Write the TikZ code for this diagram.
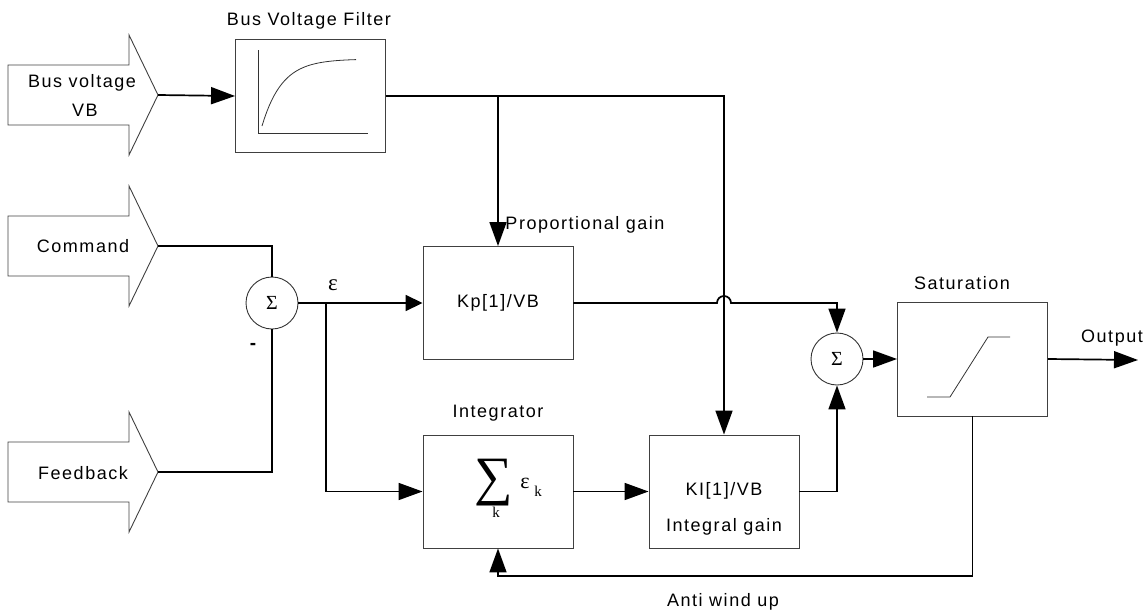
\documentclass[tikz,border=0pt]{standalone}
\usepackage{fontspec}
\setmainfont{Liberation Sans}[LetterSpace=8.5]
\newfontfamily\serifgr{Liberation Serif}
\usetikzlibrary{arrows.meta}
\begin{document}
\begin{tikzpicture}[x=1pt,y=-1pt,
 conn/.style={line width=1.7pt, black},
 arr/.style={conn, -{Triangle[length=24pt,width=17pt]}},
 sarr/.style={conn, -{Triangle[length=17pt,width=16pt]}},
 blk/.style={draw=black!75, line width=0.9pt, inner sep=0, minimum width=150pt, minimum height=113pt, align=center, font=\fontsize{18}{21}\selectfont},
 sumc/.style={circle, draw=black!80, line width=0.9pt, minimum size=52pt, inner sep=0, font=\serifgr\fontsize{20}{20}\selectfont},
 lbl/.style={inner sep=0, font=\fontsize{18}{21}\selectfont},
 grk/.style={inner sep=0, font=\serifgr\fontsize{23}{23}\selectfont},
 inarrow/.style={draw=black!75, line width=0.9pt},
 curve/.style={draw=black!80, line width=0.8pt}
]
\useasboundingbox (0,0) rectangle (1148,613);

% input arrows
\draw[inarrow] (8,65) -- (129,65) -- (129,35) -- (158,95) -- (129,155) -- (129,125) -- (8,125) -- cycle;
\coordinate (busT) at (158,95);
\node[lbl] (busL1) at (82,83) {Bus voltage};
\node[lbl] (busL2) at (85,110) {VB};

\draw[inarrow] (8,216) -- (129,216) -- (129,186) -- (158,246) -- (129,306) -- (129,276) -- (8,276) -- cycle;
\coordinate (cmdT) at (158,246);
\node[lbl] (cmdL) at (83,246) {Command};

\draw[inarrow] (8,442) -- (129,442) -- (129,412) -- (158,472) -- (129,532) -- (129,502) -- (8,502) -- cycle;
\coordinate (fbT) at (158,472);
\node[lbl] (fbL) at (83,473) {Feedback};

% blocks
\node[blk] (filt) at (310.5,96) {};
\node[lbl] (filtL) at (309,21) {Bus Voltage Filter};
\draw[curve] (258,50) -- (258,133.5) -- (368,133.5);
\draw[curve] plot[domain=262:356, samples=40] (\x, {126-67*(1-exp(-(\x-262)/20))});

\node[sumc] (s1) at (272,303) {Σ};
\node[lbl, font=\bfseries\fontsize{19}{21}\selectfont] (minus) at (253,346) {-};
\node[grk] (eps) at (333,285) {ε};

\node[blk] (kp) at (498,303) {Kp[1]/VB};
\node[lbl] (kpL) at (585,225) {Proportional gain};

\node[blk] (intg) at (498,491.5) {};
\node[lbl] (intgL) at (498,413) {Integrator};
\node[inner sep=0, font=\serifgr\fontsize{54}{54}\selectfont] (bigS) at (494,483) {∑};
\node[inner sep=0, font=\serifgr\fontsize{15}{15}\selectfont] (kS) at (496,512) {k};
\node[grk, font=\serifgr\fontsize{22}{22}\selectfont] (epsk) at (525,483.5) {ε};
\node[inner sep=0, font=\serifgr\fontsize{15}{15}\selectfont] (kE) at (538,491) {k};

\node[blk] (ki) at (724,491.5) {};
\node[lbl] (kiT) at (724,491) {KI[1]/VB};
\node[lbl] (kiL) at (724,527) {Integral gain};

\node[sumc] (s2) at (837,359) {Σ};

\node[blk, minimum height=114pt] (sat) at (972.5,359) {};
\node[lbl] (satL) at (962,283) {Saturation};
\draw[curve] (927,397) -- (950,397) -- (988,337) -- (1010,337);

\coordinate (outE) at (1138,360);
\node[lbl] (outL) at (1112,338) {Output};
\node[lbl] (awL) at (723,602) {Anti wind up};

% connectors
\draw[arr] (busT) -- (filt.west);
\draw[arr] (filt.east) -- (724,96) -- (ki.north);
\draw[arr] (498,96) -- (kp.north);
\draw[conn] (cmdT) -- (272,246) -- (s1.north);
\draw[conn] (fbT) -- (272,472) -- (s1.south);
\draw[sarr] (s1.east) -- (kp.west);
\draw[arr] (326,303) -- (326,491.5) -- (intg.west);
\draw[arr] (kp.east) -- (717,303) arc[start angle=180, end angle=0, radius=7pt] -- (837,303) -- (s2.north);
\draw[arr] (intg.east) -- (ki.west);
\draw[arr] (ki.east) -- (837,491.5) -- (s2.south);
\draw[arr] (s2.east) -- (sat.west);
\draw[arr] (sat.east) -- (outE);
\draw[arr] (972.5,416) -- (972.5,576) -- (498,576) -- (intg.south);
\end{tikzpicture}
\end{document}
